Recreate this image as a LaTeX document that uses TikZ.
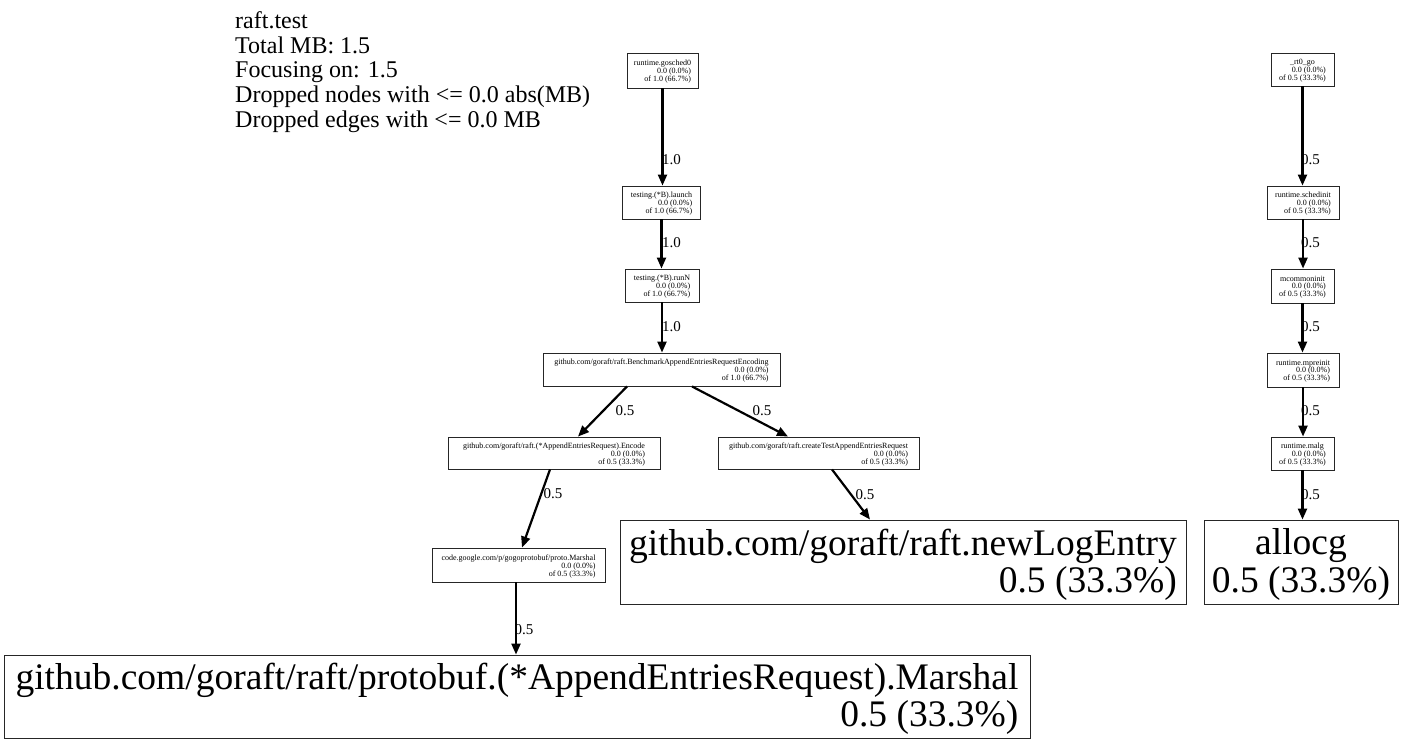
\documentclass[tikz,border=0pt]{standalone}
\usepackage{fontspec}
\setmainfont{Liberation Serif}
\usetikzlibrary{arrows.meta,calc}
\newcommand\gvsmall[3]{{\fontsize{8}{7.6}\selectfont\raisebox{-1.5pt}[\height][\depth]{\begin{tabular}{@{}r@{}}\multicolumn{1}{@{}c@{}}{#1}\\#2\\#3\end{tabular}}}}
\newcommand\gvbig[2]{{\fontsize{37.5}{37}\selectfont\raisebox{-4pt}[\height][\depth]{\begin{tabular}{@{}r@{}}\multicolumn{1}{@{}c@{}}{#1}\\#2\end{tabular}}}}
\tikzset{
  gvbox/.style={draw=black!85, line width=0.9pt, inner sep=0pt, rectangle},
  gvedge/.style={line width=2.2pt, -{Triangle[length=11pt,width=9pt]}},
  lbl/.style={font=\fontsize{15}{15}\selectfont, inner sep=0pt},
  ttl/.style={font=\fontsize{24}{25}\selectfont, anchor=base west, inner sep=0pt}
}
\begin{document}
\begin{tikzpicture}[x=1pt,y=-1pt]
\useasboundingbox (0,0) rectangle (1402,739);
% title
\node[ttl] (t1) at (235,28) {raft.test};
\node[ttl] (t2) at (235,53) {Total MB: 1.5};
\node[ttl] (t3) at (235,77.5) {Focusing on: 1.5};
\node[ttl] (t4) at (235,102) {Dropped nodes with <= 0.0 abs(MB)};
\node[ttl] (t5) at (235,127) {Dropped edges with <= 0.0 MB};
% left column
\node[gvbox, minimum width=71pt, minimum height=35pt] (g0) at (662.5,70.5) {\gvsmall{runtime.gosched0}{0.0 (0.0\%)}{of 1.0 (66.7\%)}};
\node[gvbox, minimum width=78pt, minimum height=33pt] (launch) at (661.5,202.5) {\gvsmall{testing.(*B).launch}{0.0 (0.0\%)}{of 1.0 (66.7\%)}};
\node[gvbox, minimum width=74pt, minimum height=33pt] (runn) at (662,285.5) {\gvsmall{testing.(*B).runN}{0.0 (0.0\%)}{of 1.0 (66.7\%)}};
\node[gvbox, minimum width=237pt, minimum height=33pt] (bench) at (661.5,369.5) {\gvsmall{github.com/goraft/raft.BenchmarkAppendEntriesRequestEncoding}{0.0 (0.0\%)}{of 1.0 (66.7\%)}};
\node[gvbox, minimum width=212pt, minimum height=32pt] (enc) at (554,453) {\gvsmall{github.com/goraft/raft.(*AppendEntriesRequest).Encode}{0.0 (0.0\%)}{of 0.5 (33.3\%)}};
\node[gvbox, minimum width=201pt, minimum height=32pt] (cta) at (818.5,453) {\gvsmall{github.com/goraft/raft.createTestAppendEntriesRequest}{0.0 (0.0\%)}{of 0.5 (33.3\%)}};
\node[gvbox, minimum width=173pt, minimum height=34pt] (pm) at (518.5,565) {\gvsmall{code.google.com/p/gogoprotobuf/proto.Marshal}{0.0 (0.0\%)}{of 0.5 (33.3\%)}};
\node[gvbox, minimum width=566pt, minimum height=84pt] (newlog) at (903,562) {\gvbig{github.com/goraft/raft.newLogEntry}{0.5 (33.3\%)}};
\node[gvbox, minimum width=1026pt, minimum height=83pt] (big) at (517,696.5) {\gvbig{github.com/goraft/raft/protobuf.(*AppendEntriesRequest).Marshal}{0.5 (33.3\%)}};
% right column
\node[gvbox, minimum width=63pt, minimum height=33pt] (rt0) at (1302.5,69.5) {\gvsmall{\_rt0\_go}{0.0 (0.0\%)}{of 0.5 (33.3\%)}};
\node[gvbox, minimum width=72pt, minimum height=33pt] (sched) at (1303,202.5) {\gvsmall{runtime.schedinit}{0.0 (0.0\%)}{of 0.5 (33.3\%)}};
\node[gvbox, minimum width=63pt, minimum height=34pt] (mcom) at (1302.5,286) {\gvsmall{mcommoninit}{0.0 (0.0\%)}{of 0.5 (33.3\%)}};
\node[gvbox, minimum width=72pt, minimum height=34pt] (mpre) at (1303,370) {\gvsmall{runtime.mpreinit}{0.0 (0.0\%)}{of 0.5 (33.3\%)}};
\node[gvbox, minimum width=63pt, minimum height=33pt] (malg) at (1302.5,453.5) {\gvsmall{runtime.malg}{0.0 (0.0\%)}{of 0.5 (33.3\%)}};
\node[gvbox, minimum width=194pt, minimum height=84pt] (allocg) at (1301,562) {\gvbig{allocg}{0.5 (33.3\%)}};
% edge end points
\coordinate (pmb) at ($(pm.south)+(-2.5,0)$);
% edges
\draw[gvedge] (g0.south) -- (g0.south |- launch.north);
\draw[gvedge] (launch.south) -- (launch.south |- runn.north);
\draw[gvedge] (runn.south) -- (runn.south |- bench.north);
\draw[gvedge] ($(bench.south)+(-34.5,0)$) -- ($(enc.north)+(24,0)$);
\draw[gvedge] ($(bench.south)+(30.5,0)$) -- ($(cta.north)+(-30.5,0)$);
\draw[gvedge] ($(enc.south)+(-4,0)$) -- ($(pm.north)+(3.5,0)$);
\draw[gvedge] ($(cta.south)+(13.5,0)$) -- ($(newlog.north)+(-33,0)$);
\draw[gvedge] (pmb) -- (pmb |- big.north);
\draw[gvedge] (rt0.south) -- (rt0.south |- sched.north);
\draw[gvedge] (sched.south) -- (sched.south |- mcom.north);
\draw[gvedge] (mcom.south) -- (mcom.south |- mpre.north);
\draw[gvedge] (mpre.south) -- (mpre.south |- malg.north);
\draw[gvedge] (malg.south) -- (malg.south |- allocg.north);
% edge labels
\node[lbl] (l1) at (671.5,160) {1.0};
\node[lbl] (l2) at (671.5,243) {1.0};
\node[lbl] (l3) at (671.5,327) {1.0};
\node[lbl] (l4) at (625,411) {0.5};
\node[lbl] (l5) at (762,411) {0.5};
\node[lbl] (l6) at (553,494) {0.5};
\node[lbl] (l7) at (865,495) {0.5};
\node[lbl] (l8) at (524,630) {0.5};
\node[lbl] (r1) at (1310.5,160) {0.5};
\node[lbl] (r2) at (1310.5,243) {0.5};
\node[lbl] (r3) at (1310.5,327) {0.5};
\node[lbl] (r4) at (1310.5,411) {0.5};
\node[lbl] (r5) at (1310.5,495) {0.5};
\end{tikzpicture}
\end{document}
